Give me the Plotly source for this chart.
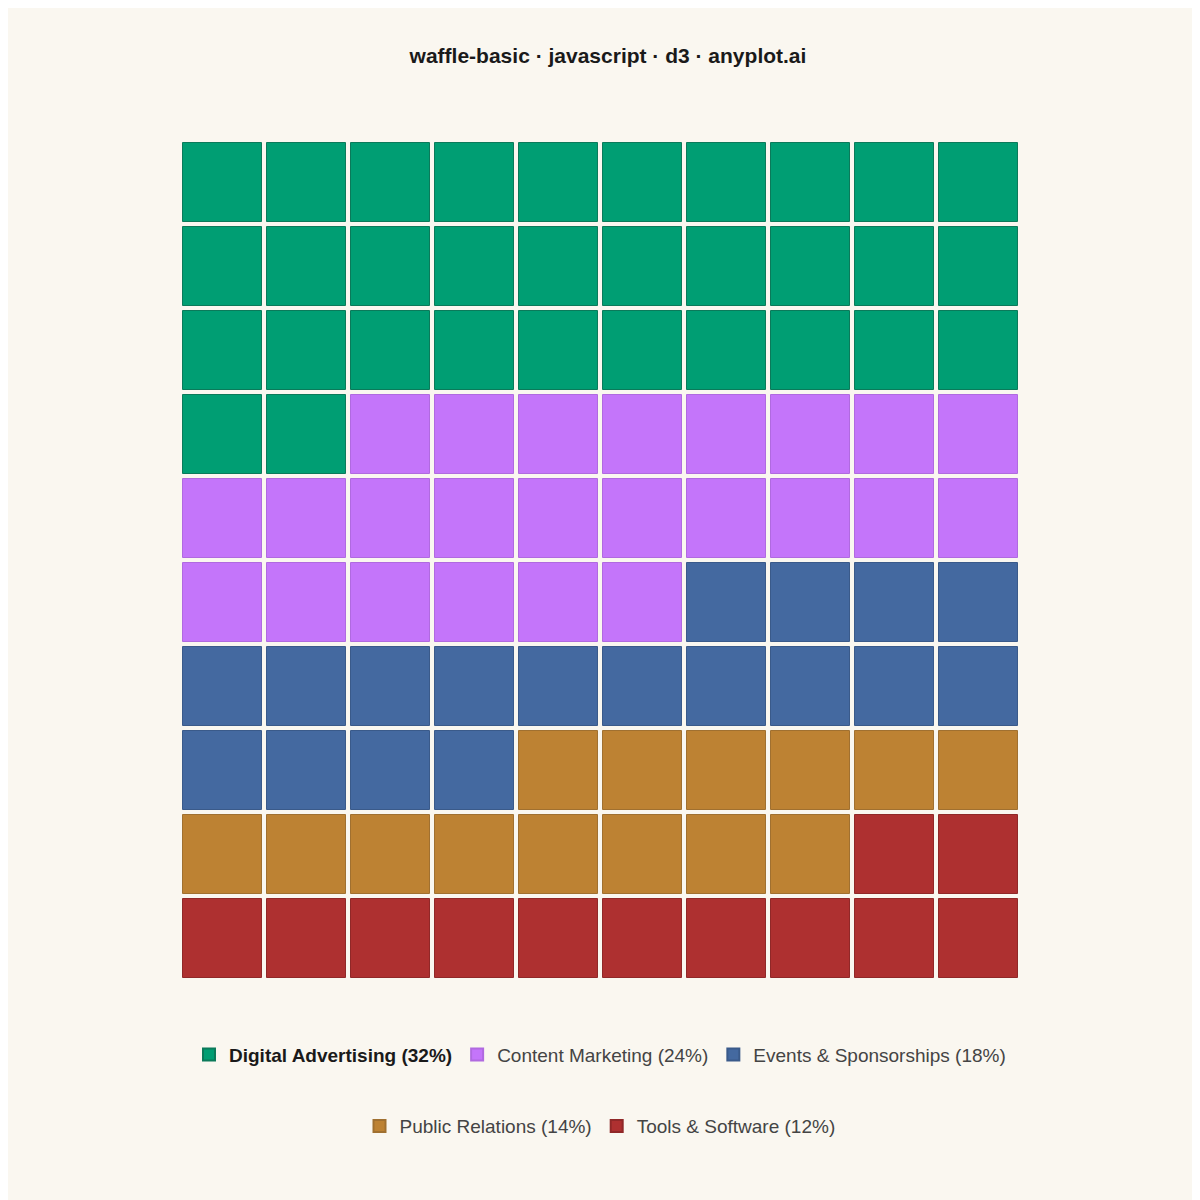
import plotly.graph_objects as go

categories = ["Digital Advertising", "Content Marketing", "Events & Sponsorships",
              "Public Relations", "Tools & Software"]
shares = [32, 24, 18, 14, 12]
colors = ["#009E73", "#C475FA", "#4469A0", "#BD8233", "#AE3030"]
borders = ["#0B7A5A", "#B06AE0", "#3A5A8A", "#A07030", "#902828"]

fig = go.Figure()
start = 0
for i, (cat, n) in enumerate(zip(categories, shares)):
    idx = list(range(start, start + n))
    start += n
    label = f"{cat} ({n}%)"
    if i == 0:
        label = f"<b><span style='color:#1a1a1a'>{label}</span></b>"
    fig.add_trace(go.Scatter(
        x=[k % 10 for k in idx],
        y=[k // 10 for k in idx],
        mode="markers",
        name=label,
        legend="legend" if i < 3 else "legend2",
        marker=dict(symbol="square", size=79, color=colors[i],
                    line=dict(width=1, color=borders[i])),
        hovertemplate=f"{cat}: {n}%<extra></extra>",
    ))

leg = dict(orientation="h", x=0.5, xanchor="center", yanchor="middle",
           itemsizing="constant", font=dict(size=19, color="#444444"),
           bgcolor="rgba(0,0,0,0)", itemwidth=30)

fig.update_xaxes(range=[-0.5, 9.5], visible=False, fixedrange=True)
fig.update_yaxes(range=[9.5, -0.5], visible=False, fixedrange=True)
fig.update_layout(
    width=1200, height=1200,
    margin=dict(l=172, r=188, t=132, b=228),
    paper_bgcolor="#FAF7F0", plot_bgcolor="#FAF7F0",
    font=dict(family="Liberation Sans, Arial, sans-serif", size=19, color="#333333"),
    title=dict(text="<b>waffle-basic · javascript · d3 · anyplot.ai</b>",
               x=0.5, y=0.96, yanchor="middle", xanchor="center",
               font=dict(size=21, color="#1a1a1a")),
    showlegend=True,
    legend=dict(leg, y=-0.089),
    legend2=dict(leg, y=-0.174),
)

fig.write_html("out.html")
